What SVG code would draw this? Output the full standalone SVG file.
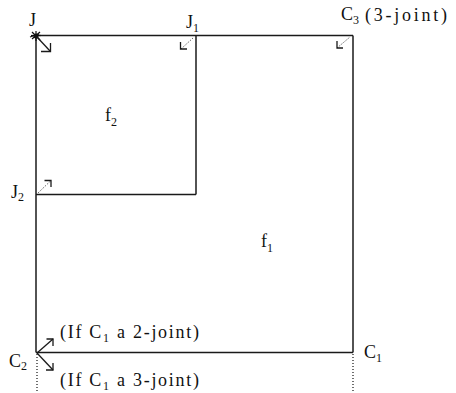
<svg xmlns="http://www.w3.org/2000/svg" width="456" height="393" viewBox="0 0 456 393">
<style>
text{font-family:"Liberation Serif","DejaVu Serif",serif;font-size:18px;fill:#111}
.sub{font-size:12px}
.edge{stroke:#1a1a1a;stroke-width:1.5;fill:none}
.dot{stroke:#222;stroke-width:1.3;stroke-dasharray:1 2;fill:none}
.mark{stroke:#1a1a1a;stroke-width:1.3;fill:none}
.dmark{stroke:#333;stroke-width:1;stroke-dasharray:1 1.5;fill:none}
</style>
<rect width="456" height="393" fill="#fff"/>
<g id="connectors">
<line class="edge" x1="36" y1="35.5" x2="353" y2="35.5"/>
<line class="edge" x1="36" y1="35.5" x2="36" y2="352.5"/>
<line class="edge" x1="36" y1="352.5" x2="353" y2="352.5"/>
<line class="edge" x1="353" y1="35.5" x2="353" y2="352.5"/>
<line class="edge" x1="196" y1="35.5" x2="196" y2="194.5"/>
<line class="edge" x1="36" y1="194.5" x2="196" y2="194.5"/>
<line class="dot" x1="37" y1="354" x2="37" y2="393"/>
<line class="dot" x1="353" y1="354" x2="353" y2="393"/>
</g>
<g id="f1"><text x="261" y="247">f<tspan class="sub" dy="5">1</tspan></text></g>
<g id="f2"><text x="105" y="121">f<tspan class="sub" dy="5">2</tspan></text></g>
<g id="J">
<text x="29" y="26">J</text>
<g stroke="#111" stroke-width="1.2">
<line x1="31" y1="35.5" x2="41" y2="35.5"/><line x1="36" y1="31" x2="36" y2="41"/>
<line x1="32" y1="32" x2="40" y2="40"/><line x1="32" y1="39" x2="40" y2="32"/>
<line x1="30" y1="37" x2="39" y2="34"/>
</g>
<circle cx="36" cy="36" r="2.5" fill="#111"/>
<line class="mark" x1="37" y1="37" x2="50" y2="51"/>
<polyline class="mark" points="41,51.5 50.5,51.5 50.5,43"/>
</g>
<g id="J1">
<text x="186" y="28">J<tspan class="sub" dy="4">1</tspan></text>
<line class="dmark" x1="181" y1="49" x2="193" y2="38"/>
<polyline class="mark" points="180.5,42 180.5,49 187,49"/>
</g>
<g id="C3">
<text x="341" y="20">C<tspan class="sub" dy="4">3</tspan></text>
<text x="365" y="21" textLength="82" lengthAdjust="spacing">(3-joint)</text>
<line class="dmark" x1="337" y1="48" x2="350" y2="37"/>
<polyline class="mark" points="337,41 337,48 343,48"/>
</g>
<g id="J2">
<text x="11" y="198">J<tspan class="sub" dy="3">2</tspan></text>
<line class="dmark" x1="38" y1="193" x2="51" y2="180.5"/>
<polyline class="mark" points="44.5,180.5 51,180.5 51,187"/>
</g>
<g id="C2">
<text x="9" y="367">C<tspan class="sub" dy="3">2</tspan></text>
<line class="mark" x1="37" y1="353" x2="53" y2="339"/>
<polyline class="mark" points="46.5,339 53,339 53,346"/>
<line class="mark" x1="37" y1="353" x2="53" y2="370"/>
<polyline class="mark" points="46,370 53,370 53,363"/>
<text x="60" y="338" textLength="139" lengthAdjust="spacing">(If C<tspan class="sub" dy="4">1</tspan><tspan dy="-4"> a 2-joint)</tspan></text>
<text x="60" y="386" textLength="139" lengthAdjust="spacing">(If C<tspan class="sub" dy="4">1</tspan><tspan dy="-4"> a 3-joint)</tspan></text>
</g>
<g id="C1">
<text x="364" y="358">C<tspan class="sub" dy="4">1</tspan></text>
</g>
</svg>
